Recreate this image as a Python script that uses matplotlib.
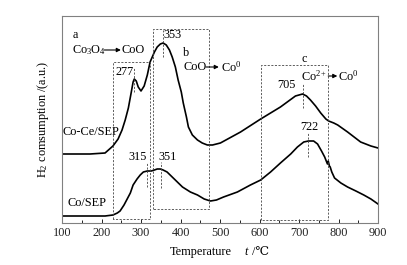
import matplotlib
matplotlib.use("Agg")
import matplotlib.pyplot as plt
from matplotlib.ticker import MultipleLocator

plt.rcParams['font.family'] = ['Liberation Serif', 'DejaVu Serif']
plt.rcParams['mathtext.fontset'] = 'custom'
plt.rcParams['mathtext.rm'] = 'Liberation Serif'
plt.rcParams['mathtext.it'] = 'Liberation Serif:italic'
plt.rcParams['mathtext.bf'] = 'Liberation Serif:bold'

# ---- data (temperature in C, signal in arbitrary units) ----
coce_T = [100, 171, 209, 229, 242, 252, 260, 268, 275, 280, 283, 288, 293, 300,
          308, 316, 323, 334, 341, 349, 356, 364, 372, 379, 387, 394, 402, 407,
          415, 420, 430, 443, 455, 468, 481, 501, 552, 603, 653, 691, 709, 719,
          729, 742, 755, 768, 775, 788, 798, 823, 856, 882, 900]
coce_y = [69, 69, 70, 77, 84, 93, 103, 115, 130, 141, 144, 142, 136, 132,
          137, 148, 161, 171, 176, 179, 180, 178, 173, 166, 156, 143, 131, 120,
          106, 96, 88, 83, 80, 78, 78, 80, 91, 104, 116, 127, 129, 127,
          123, 117, 110, 104, 102, 100, 98, 91, 81, 77, 75]

co_T = [100, 171, 209, 229, 240, 247, 257, 265, 273, 280, 290, 298, 306, 316,
        326, 334, 341, 349, 356, 366, 379, 392, 405, 425, 443, 460, 476, 491,
        509, 544, 577, 603, 628, 653, 679, 696, 712, 724, 737, 747, 757, 765,
        769, 772, 774, 777, 779, 783, 790, 806, 823, 844, 864, 882, 900]
co_y = [7, 7, 7, 8, 10, 12, 18, 24, 30, 38, 44, 48, 51, 52,
        52, 53, 54, 54, 53, 51, 46, 41, 36, 31, 28, 24, 22, 23,
        26, 31, 38, 43, 51, 60, 69, 76, 81, 82, 82, 79, 72, 66,
        62, 59, 62, 57, 56, 51, 45, 40, 36, 32, 28, 24, 19]

# dashed region boxes: (T_left, T_right, y_bottom, y_top)
box_T0 = [229, 331, 603]
box_T1 = [323, 473, 773]
box_y0 = [4, 14, 3]
box_y1 = [161, 194, 158]

# peak markers: position, y-range, label
peak_T = [283, 356, 709, 724, 316, 351]
peak_y0 = [131, 166, 115, 66, 36, 35]
peak_y1 = [155, 193, 140, 90, 61, 61]
peak_labels = ['277', '353', '705', '722', '315', '351']

xticks = [100, 200, 300, 400, 500, 600, 700, 800, 900]

fig = plt.figure(figsize=(4.07, 2.65), dpi=100)
ax = fig.add_axes([62/407, 42/265, 316/407, 207/265])

ax.plot(coce_T, coce_y, color='black', lw=1.2)
ax.plot(co_T, co_y, color='black', lw=1.2)

dash = dict(color='#444444', lw=0.6, ls=(0, (2.5, 1.8)))
for t0, t1, y0, y1 in zip(box_T0, box_T1, box_y0, box_y1):
    ax.plot([t0, t0, t1, t1, t0], [y0, y1, y1, y0, y0], **dash)
for t, y0, y1 in zip(peak_T, peak_y0, peak_y1):
    ax.plot([t, t], [y0, y1], **dash)

fs = 8.8
# peak labels
lab_pos = [(281, 151, 'right'), (358, 188, 'left'), (692, 138, 'right'),
           (727, 96, 'center'), (314, 66, 'right'), (343, 66, 'left')]
for (x, y, ha), s in zip(lab_pos, peak_labels):
    ax.text(x, y, s, fontsize=fs, ha=ha, va='center')

arrow = dict(arrowstyle='-|>', color='black', lw=0.8, mutation_scale=6,
             shrinkA=0, shrinkB=0)

# region annotations
ax.text(128, 188, 'a', fontsize=fs, ha='left', va='center')
ax.text(125, 173, 'Co$_3$O$_4$', fontsize=fs, ha='left', va='center')
ax.annotate('', xy=(249, 173), xytext=(207, 173), arrowprops=arrow)
ax.text(251, 173, 'CoO', fontsize=fs, ha='left', va='center')

ax.text(407, 170, 'b', fontsize=fs, ha='left', va='center')
ax.text(407, 156, 'CoO', fontsize=fs, ha='left', va='center')
ax.annotate('', xy=(497, 156), xytext=(465, 156), arrowprops=arrow)
ax.text(502, 156, 'Co$^{0}$', fontsize=fs, ha='left', va='center')

ax.text(714, 164, 'c', fontsize=fs, ha='center', va='center')
ax.text(706, 147, 'Co$^{2+}$', fontsize=fs, ha='left', va='center')
ax.annotate('', xy=(797, 147), xytext=(774, 147), arrowprops=arrow)
ax.text(799, 147, 'Co$^{0}$', fontsize=fs, ha='left', va='center')

ax.text(101, 91, 'Co-Ce/SEP', fontsize=fs, ha='left', va='center')
ax.text(115, 20, 'Co/SEP', fontsize=fs, ha='left', va='center')

ax.set_xlim(100, 900)
ax.set_ylim(0, 207)
ax.set_xticks(xticks)
ax.xaxis.set_minor_locator(MultipleLocator(50))
ax.set_yticks([])
ax.tick_params(axis='x', which='major', direction='in', length=3, width=0.7,
               labelsize=fs, pad=3, colors='#222222', top=False)
ax.tick_params(axis='x', which='minor', direction='in', length=2, width=0.6,
               top=False)
for sp in ax.spines.values():
    sp.set_color('#808080')
    sp.set_linewidth(0.8)

ax.text(0.44, -0.14, 'Temperature', transform=ax.transAxes, fontsize=fs,
        ha='center', va='center')
ax.text(0.586, -0.14, '$t$', transform=ax.transAxes, fontsize=fs,
        ha='center', va='center')
ax.text(0.600, -0.14, '/\u2103', transform=ax.transAxes, fontsize=fs,
        ha='left', va='center')
ax.set_ylabel('H$_2$ comsumption /(a.u.)', fontsize=fs, labelpad=8)

fig.savefig('out.png', dpi=100)
